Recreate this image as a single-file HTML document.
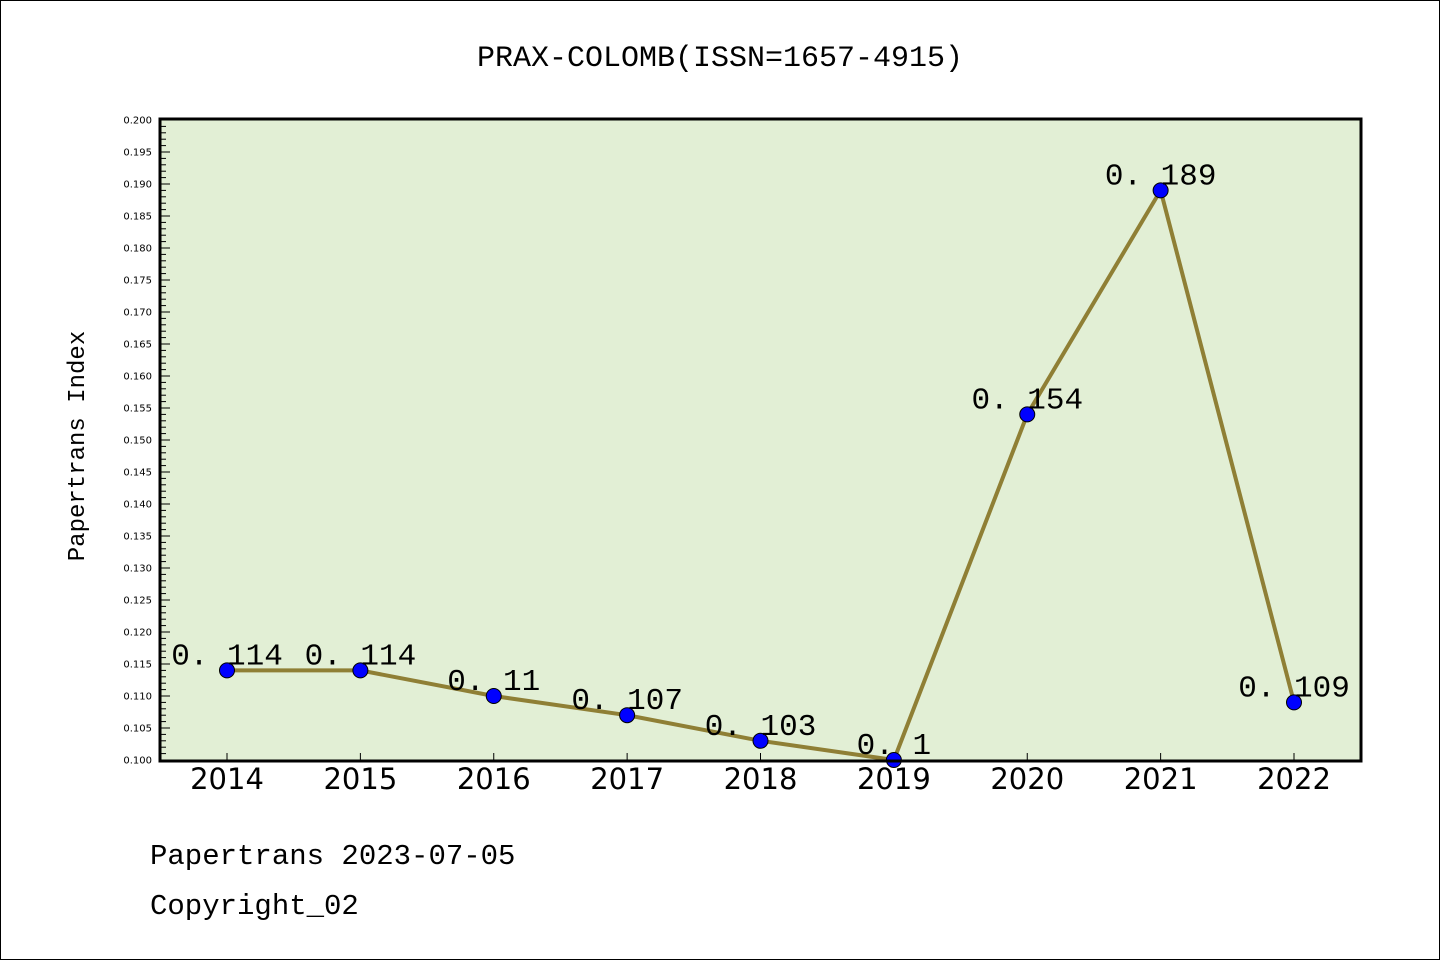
<!DOCTYPE html>
<html><head><meta charset="utf-8"><style>
body{margin:0;background:#fff}
svg{display:block;font-family:"Liberation Mono","WenQuanYi Zen Hei",monospace}
</style></head><body>
<svg width="1440" height="960" viewBox="0 0 1440 960">
<rect x="0.5" y="0.5" width="1439" height="959" fill="#fff" stroke="#000"/>
<text x="720" y="66" text-anchor="middle" font-size="30" font-family="'WenQuanYi Zen Hei','Liberation Mono',monospace">PRAX-COLOMB(ISSN=1657-4915)</text>
<rect x="160" y="119" width="1201" height="642" fill="#e2efd5"/>
<g id="yticks"></g><g id="xticks"></g>
<g id="series"></g>
<rect x="160" y="119" width="1201" height="642" fill="none" stroke="#000" stroke-width="3"/>
<text transform="translate(84,446) rotate(-90)" text-anchor="middle" font-size="24" font-family="'WenQuanYi Zen Hei','Liberation Mono',monospace">Papertrans Index</text>
<text x="150" y="864" font-size="29" font-family="'WenQuanYi Zen Hei','Liberation Mono',monospace">Papertrans 2023-07-05</text>
<text x="150" y="914" font-size="29" font-family="'WenQuanYi Zen Hei','Liberation Mono',monospace">Copyright_02</text>
</svg>
<script>
const years=["2014","2015","2016","2017","2018","2019","2020","2021","2022"];
const values=[0.114,0.114,0.11,0.107,0.103,0.1,0.154,0.189,0.109];
const valueLabels=["0.114","0.114","0.11","0.107","0.103","0.1","0.154","0.189","0.109"];
const yMin=0.1,yMax=0.2;
const NS="http://www.w3.org/2000/svg";
const xs=i=>227+i*(1294-227)/(years.length-1);
const ys=v=>760-(v-yMin)/(yMax-yMin)*640;
function mk(t,a,p){const e=document.createElementNS(NS,t);for(const k in a)e.setAttribute(k,a[k]);p.appendChild(e);return e;}
const yt=document.getElementById('yticks');
for(let k=0;k<=100;k++){
  const v=yMin+k*0.001,y=ys(v),major=k%5===0;
  const l=mk('line',{x1:160,x2:major?170:166,y1:y,y2:y,stroke:'#000','stroke-width':1},yt);
  
  
  if(major){
    const t=mk('text',{x:152,y:y+3.5,'text-anchor':'end','font-size':10,'font-family':'DejaVu Sans, sans-serif'},yt);
    t.textContent=v.toFixed(3);
    
    
  }
}
const xt=document.getElementById('xticks');
years.forEach((yr,i)=>{
  const l=mk('line',{x1:xs(i),x2:xs(i),y1:761,y2:753,stroke:'#000','stroke-width':1},xt);
  
  
  const t=mk('text',{x:xs(i),y:789,'text-anchor':'middle','font-size':29,'font-family':'DejaVu Sans, sans-serif'},xt);
  t.textContent=yr;
  
  
});
const s=document.getElementById('series');
const pl=mk('polyline',{points:values.map((v,i)=>xs(i)+','+ys(v)).join(' '),fill:'none',stroke:'#8f7f35','stroke-width':4},s);


values.forEach((v,i)=>{
  const c=mk('circle',{cx:xs(i),cy:ys(v),r:7.5,fill:'#0000ff',stroke:'#000','stroke-width':1},s);
  
  
  const t=mk('text',{x:xs(i),y:ys(v)-6,'text-anchor':'middle','font-size':31,'font-family':"'WenQuanYi Zen Hei','Liberation Mono',monospace"},s);
  t.textContent=valueLabels[i].replace('.','. ');
  
  
});
</script>
</body></html>
